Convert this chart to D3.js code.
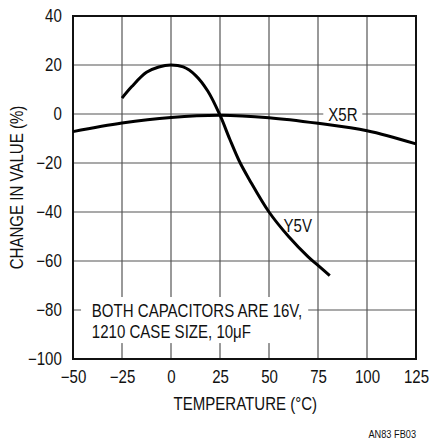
<!DOCTYPE html>
<html>
<head>
<meta charset="utf-8">
<script src="https://cdn.jsdelivr.net/npm/d3@7"></script>
<style>
  body { margin: 0; background: #fff; }
  svg text { font-family: "Liberation Sans", Arial, sans-serif; fill: #111; }
</style>
</head>
<body>
<div id="chart-container"></div>
<script>
// values
const xTicks = [-50, -25, 0, 25, 50, 75, 100, 125];
const yTicks = [-100, -80, -60, -40, -20, 0, 20, 40];

const x5rTemp = [-50, -25, 0, 25, 50, 75, 100, 125];
const x5rValue = [-7.2, -3.7, -1.4, -0.5, -1.5, -3.8, -6.8, -12.2];

const y5vTemp = [-25, -20, -12.5, -6.25, 0, 6.25, 12.5, 18.75, 25, 30, 35, 40, 50, 60, 70, 75, 81];
const y5vValue = [6.5, 11.2, 17, 19.2, 20, 19.2, 15.8, 9.4, -0.5, -10.3, -19.5, -26.8, -40, -50, -58.3, -61.8, -66];

const noteLines = ["BOTH CAPACITORS ARE 16V,", "1210 CASE SIZE, 10\u03bcF"];

const width = 435;
const height = 448;
const margin = { top: 16, right: 19, bottom: 89, left: 73 };
const squeeze = 0.86; // narrow the Arial-like face to look condensed
const fontSize = 17.5;

const svg = d3.select("#chart-container")
    .append("svg")
    .attr("width", width)
    .attr("height", height);

const xScale = d3.scaleLinear()
    .domain([-50, 125])
    .range([margin.left, width - margin.right]);

const yScale = d3.scaleLinear()
    .domain([-100, 40])
    .range([height - margin.bottom, margin.top]);

// put a condensed looking text at x,y
function addText(x, y, str, size, anchor) {
    return svg.append("text")
        .attr("transform", `translate(${x},${y}) scale(${squeeze},1)`)
        .attr("text-anchor", anchor || "start")
        .attr("font-size", size)
        .text(str);
}

// grid
svg.append("g")
    .selectAll("line")
    .data(xTicks.slice(1, -1))
    .enter()
    .append("line")
    .attr("x1", d => xScale(d))
    .attr("x2", d => xScale(d))
    .attr("y1", margin.top)
    .attr("y2", height - margin.bottom)
    .attr("stroke", "#555")
    .attr("stroke-width", 1.2);

svg.append("g")
    .selectAll("line")
    .data(yTicks.slice(1, -1))
    .enter()
    .append("line")
    .attr("x1", margin.left)
    .attr("x2", width - margin.right)
    .attr("y1", d => yScale(d))
    .attr("y2", d => yScale(d))
    .attr("stroke", "#555")
    .attr("stroke-width", 1.2);

// white boxes behind the labels (they cut the grid)
svg.append("rect")
    .attr("x", xScale(-45.9))
    .attr("y", yScale(-74.7))
    .attr("width", xScale(70) - xScale(-45.9))
    .attr("height", yScale(-93.5) - yScale(-74.7))
    .attr("fill", "#fff");

svg.append("rect")
    .attr("x", xScale(77.7))
    .attr("y", yScale(4))
    .attr("width", xScale(97.6) - xScale(77.7))
    .attr("height", yScale(-4) - yScale(4))
    .attr("fill", "#fff");

// frame
svg.append("rect")
    .attr("x", margin.left)
    .attr("y", margin.top)
    .attr("width", width - margin.left - margin.right)
    .attr("height", height - margin.top - margin.bottom)
    .attr("fill", "none")
    .attr("stroke", "#111")
    .attr("stroke-width", 2);

// tick labels
const fmt = d => d < 0 ? "\u2212" + Math.abs(d) : d;

svg.append("g")
    .attr("transform", `translate(0,${height - margin.bottom})`)
    .call(d3.axisBottom(xScale).tickValues(xTicks).tickSize(0).tickPadding(11.5).tickFormat(fmt))
    .call(g => g.select(".domain").remove())
    .selectAll("text")
    .attr("font-size", fontSize)
    .attr("transform", `scale(${squeeze},1)`);

svg.append("g")
    .attr("transform", `translate(${margin.left},0)`)
    .call(d3.axisLeft(yScale).tickValues(yTicks).tickSize(0).tickPadding(13).tickFormat(fmt))
    .call(g => g.select(".domain").remove())
    .selectAll("text")
    .attr("font-size", fontSize)
    .attr("transform", `scale(${squeeze},1)`);

svg.selectAll(".tick text").attr("fill", "#111");
svg.selectAll(".tick").attr("font-family", null);

// curves
const line = d3.line()
    .x(d => xScale(d[0]))
    .y(d => yScale(d[1]))
    .curve(d3.curveCatmullRom.alpha(0.5));

svg.append("path")
    .datum(x5rTemp.map((t, i) => [t, x5rValue[i]]))
    .attr("d", line)
    .attr("fill", "none")
    .attr("stroke", "#000")
    .attr("stroke-width", 3);

svg.append("path")
    .datum(y5vTemp.map((t, i) => [t, y5vValue[i]]))
    .attr("d", line)
    .attr("fill", "none")
    .attr("stroke", "#000")
    .attr("stroke-width", 3)
    .attr("stroke-linecap", "butt");

// series labels
addText(xScale(87.7), yScale(-0.4) + 6.3, "X5R", fontSize, "middle");
addText(xScale(64.7), yScale(-45.5) + 6.3, "Y5V", fontSize, "middle");

// note
noteLines.forEach((s, i) => {
    addText(xScale(-40.4), yScale(-80.2) + 6.3 + i * 21, s, fontSize, "start");
});

// axis titles
addText(245.3, 410, "TEMPERATURE (\u00b0C)", fontSize, "middle");

svg.append("text")
    .attr("transform", `translate(23,${(margin.top + height - margin.bottom) / 2}) rotate(-90) scale(${squeeze},1)`)
    .attr("text-anchor", "middle")
    .attr("font-size", fontSize)
    .text("CHANGE IN VALUE (%)");

svg.append("text")
    .attr("transform", `translate(${width - margin.right},438) scale(0.8,1)`)
    .attr("text-anchor", "end")
    .attr("font-size", 11.5)
    .text("AN83 FB03");
</script>
</body>
</html>
